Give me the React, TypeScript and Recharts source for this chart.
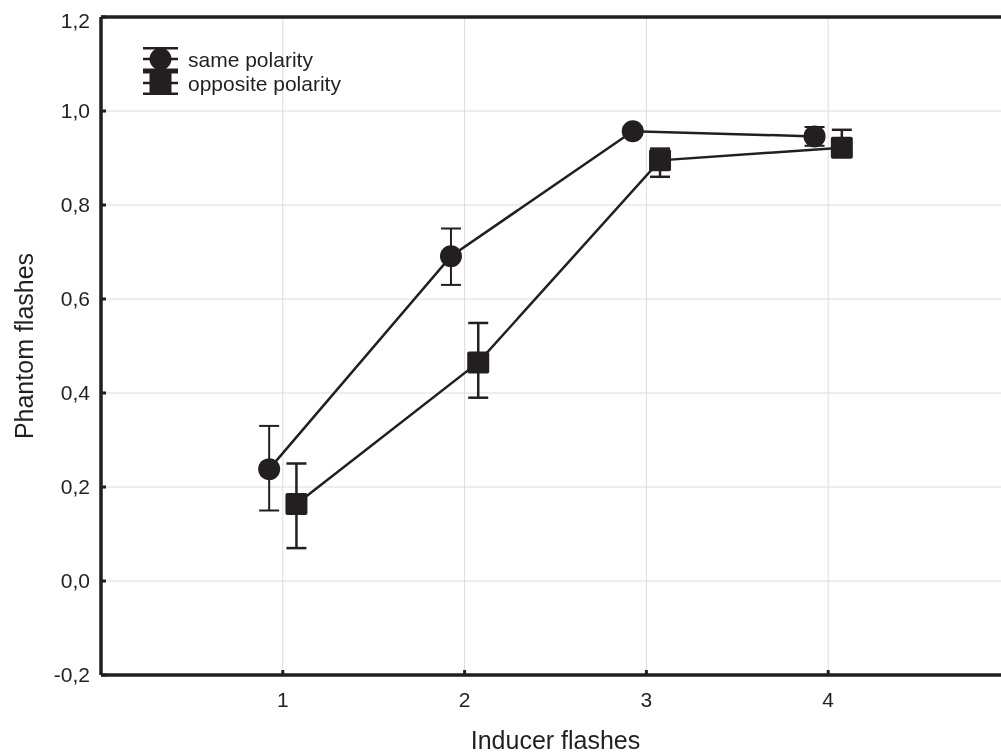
import React from 'react';
import {
  ComposedChart,
  Line,
  XAxis,
  YAxis,
  CartesianGrid,
  ErrorBar,
  Legend,
  Label,
  ReferenceLine,
} from 'recharts';

// ---- data ----
const SERIES_NAMES = ['same polarity', 'opposite polarity'];

const sameX = [0.925, 1.925, 2.925, 3.925];
const sameY = [0.238, 0.691, 0.957, 0.946];
const sameLow = [0.15, 0.63, 0.949, 0.926];
const sameHigh = [0.33, 0.75, 0.965, 0.966];

const oppX = [1.075, 2.075, 3.075, 4.075];
const oppY = [0.164, 0.465, 0.895, 0.922];
const oppLow = [0.07, 0.39, 0.86, 0.905];
const oppHigh = [0.25, 0.549, 0.92, 0.96];

const xTicks = [1, 2, 3, 4];
const yTicks = [-0.2, 0, 0.2, 0.4, 0.6, 0.8, 1.0, 1.2];
const X_DOMAIN: [number, number] = [0, 5];
const Y_DOMAIN: [number, number] = [-0.2, 1.2];

const X_TITLE = 'Inducer flashes';
const Y_TITLE = 'Phantom flashes';

// ---- derived tables ----
const build = (xs: number[], ys: number[], lo: number[], hi: number[]) =>
  xs.map((x, i) => ({ x, y: ys[i], err: [ys[i] - lo[i], hi[i] - ys[i]] }));

const sameData = build(sameX, sameY, sameLow, sameHigh);
const oppData = build(oppX, oppY, oppLow, oppHigh);

const INK = '#231f20';
const FONT = '"Liberation Sans", Arial, Helvetica, sans-serif';

const fmt = (v: number) => v.toFixed(1).replace('.', ',');

const CircleDot = (props: any) => {
  const { cx, cy, index } = props;
  if (cx == null || cy == null) return null;
  return <circle key={`c-${index}`} cx={cx} cy={cy} r={11} fill={INK} />;
};

const SquareDot = (props: any) => {
  const { cx, cy, index } = props;
  if (cx == null || cy == null) return null;
  return (
    <rect key={`s-${index}`} x={cx - 11} y={cy - 11} width={22} height={22} rx={2} fill={INK} />
  );
};

const LegendContent = () => (
  <svg width={240} height={52} style={{ display: 'block', overflow: 'visible' }}>
    {SERIES_NAMES.map((name, i) => {
      const cy = 13 + i * 24;
      return (
        <g key={name}>
          <line x1={0} x2={35} y1={cy - 10.7} y2={cy - 10.7} stroke={INK} strokeWidth={2.5} />
          <line x1={0} x2={35} y1={cy + 10.7} y2={cy + 10.7} stroke={INK} strokeWidth={2.5} />
          <line x1={0} x2={35} y1={cy} y2={cy} stroke={INK} strokeWidth={2.5} />
          <line x1={17.5} x2={17.5} y1={cy - 10.7} y2={cy + 10.7} stroke={INK} strokeWidth={2} />
          {i === 0 ? (
            <circle cx={17.5} cy={cy} r={11} fill={INK} />
          ) : (
            <rect x={6.5} y={cy - 11} width={22} height={22} rx={2} fill={INK} />
          )}
          <text x={45} y={cy + 7.5} fontSize={21} fontFamily={FONT} fill={INK}>
            {name}
          </text>
        </g>
      );
    })}
  </svg>
);

const XTitle = (props: any) => {
  const vb = props.viewBox || {};
  return (
    <text
      x={vb.x + vb.width / 2}
      y={vb.y + vb.height - 4}
      textAnchor="middle"
      fontSize={25}
      fontFamily={FONT}
      fill={INK}
    >
      {X_TITLE}
    </text>
  );
};

const YTitle = (props: any) => {
  const vb = props.viewBox || {};
  const x = vb.x + 25;
  const y = vb.y + vb.height / 2;
  return (
    <text
      x={x}
      y={y}
      transform={`rotate(-90 ${x} ${y})`}
      textAnchor="middle"
      fontSize={25}
      fontFamily={FONT}
      fill={INK}
    >
      {Y_TITLE}
    </text>
  );
};

const tickStyle = { fontSize: 21, fill: INK, fontFamily: FONT };

export default function App() {
  return (
    <div
      style={{
        position: 'fixed',
        left: 8,
        top: 8,
        width: 993,
        height: 745,
        overflow: 'hidden',
      }}
    >
      <ComposedChart
        width={1010}
        height={745}
        margin={{ top: 8, right: 8, bottom: 0, left: 0 }}
        style={{ fontFamily: FONT }}
      >
        <CartesianGrid stroke="#dcdcdc" strokeWidth={1} />
        <XAxis
          type="number"
          dataKey="x"
          domain={X_DOMAIN}
          ticks={xTicks}
          height={78}
          tickSize={-5}
          tickMargin={22}
          axisLine={{ stroke: INK, strokeWidth: 3 }}
          tickLine={{ stroke: INK, strokeWidth: 3 }}
          tick={tickStyle}
          fontSize={21}
        >
          <Label content={XTitle} />
        </XAxis>
        <XAxis
          xAxisId="top"
          orientation="top"
          type="number"
          dataKey="x"
          domain={X_DOMAIN}
          ticks={xTicks}
          height={1}
          tickSize={-5}
          tick={false}
          axisLine={{ stroke: INK, strokeWidth: 3 }}
          tickLine={{ stroke: INK, strokeWidth: 3 }}
        />
        <YAxis
          type="number"
          domain={Y_DOMAIN}
          ticks={yTicks}
          width={93}
          tickSize={-5}
          tickMargin={16}
          tickFormatter={fmt}
          axisLine={{ stroke: INK, strokeWidth: 3 }}
          tickLine={{ stroke: INK, strokeWidth: 3 }}
          tick={tickStyle}
          fontSize={21}
        >
          <Label content={YTitle} />
        </YAxis>
        <ReferenceLine x={X_DOMAIN[0]} stroke={INK} strokeWidth={3} />
        <ReferenceLine y={Y_DOMAIN[1]} stroke={INK} strokeWidth={3} />
        <ReferenceLine y={Y_DOMAIN[0]} stroke={INK} strokeWidth={3} />
        <Legend
          layout="vertical"
          verticalAlign="middle"
          align="center"
          content={LegendContent}
          wrapperStyle={{ left: 135, top: 38, width: 240, height: 52 }}
        />
        <Line
          data={sameData}
          dataKey="y"
          name={SERIES_NAMES[0]}
          stroke={INK}
          strokeWidth={2.5}
          dot={CircleDot}
          activeDot={false}
          isAnimationActive={false}
        >
          <ErrorBar dataKey="err" direction="y" width={10} stroke={INK} strokeWidth={2} />
        </Line>
        <Line
          data={oppData}
          dataKey="y"
          name={SERIES_NAMES[1]}
          stroke={INK}
          strokeWidth={2.5}
          dot={SquareDot}
          activeDot={false}
          isAnimationActive={false}
        >
          <ErrorBar dataKey="err" direction="y" width={10} stroke={INK} strokeWidth={2.5} />
        </Line>
      </ComposedChart>
    </div>
  );
}
